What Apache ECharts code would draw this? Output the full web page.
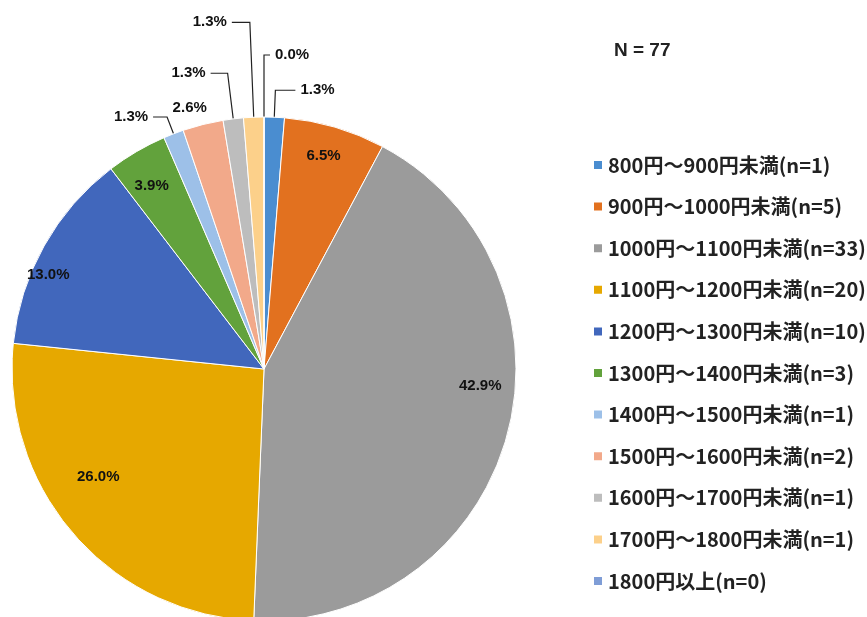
<!DOCTYPE html>
<html>
<head>
<meta charset="utf-8">
<script src="https://cdn.jsdelivr.net/npm/echarts@6/dist/echarts.min.js"></script>
<style>
html,body{margin:0;padding:0;background:#fff;}
#chart{width:867px;height:617px;}
</style>
</head>
<body>
<div id="chart"></div>
<script>
// ---- data ----
const categories = [
  '800円～900円未満', '900円～1000円未満', '1000円～1100円未満', '1100円～1200円未満',
  '1200円～1300円未満', '1300円～1400円未満', '1400円～1500円未満', '1500円～1600円未満',
  '1600円～1700円未満', '1700円～1800円未満', '1800円以上'
];
const counts = [1, 5, 33, 20, 10, 3, 1, 2, 1, 1, 0];
const totalN = 77;
const colors = ['#4a8dd0', '#e2711f', '#9b9b9b', '#e6a800', '#4167bc', '#62a23c',
                '#9dc0e8', '#f2a98a', '#bdbdbd', '#fcd08a', '#7f9dd6'];

// ---- styling helpers (not data) ----
const insideIdx = [1, 2, 3, 4, 5];
const insideOffset = { 1: [-3, 0], 2: [2, -41], 3: [2, -38], 4: [-22, 14], 5: [0, 8] };
const outsideLine = { // first segment, second segment, show line
  0: [27, 20, true],
  6: [18, 14, true],
  7: [17, 0, false],
  8: [46, 17, true],
  9: [95, 18, true],
  10: [62, 6, true]
};
const pct = v => (v / totalN * 100).toFixed(1) + '%';
const legendNames = categories.map((c, i) => c + '(n=' + counts[i] + ')');

const labelFont = {
  color: '#111', fontSize: 15, fontWeight: 'bold',
  fontFamily: '"Liberation Sans", Arial, sans-serif'
};

const mainData = counts.map((v, i) => {
  const o = outsideLine[i];
  return {
    name: legendNames[i],
    value: v,
    itemStyle: { color: colors[i] },
    label: o ? Object.assign({ show: true, position: 'outside', formatter: () => pct(v) }, labelFont)
             : { show: false },
    labelLine: o ? { show: o[2], length: o[0], length2: o[1], smooth: false,
                     lineStyle: { color: '#222', width: 1.2 } } : { show: false }
  };
});

const labelData = counts.map((v, i) => ({
  name: legendNames[i],
  value: v,
  itemStyle: { color: 'rgba(0,0,0,0)' },
  label: insideIdx.includes(i)
    ? Object.assign({ show: true, position: 'inside', offset: insideOffset[i], formatter: () => pct(v) }, labelFont)
    : { show: false },
  labelLine: { show: false }
}));

const chart = echarts.init(document.getElementById('chart'), null, { renderer: 'canvas' });
chart.setOption({
  animation: false,
  backgroundColor: '#ffffff',
  title: {
    text: 'N = 77',
    left: 609, top: 36,
    textStyle: { fontSize: 19, fontWeight: 'bold', color: '#222',
                 fontFamily: '"Liberation Sans", Arial, sans-serif' }
  },
  legend: {
    orient: 'vertical',
    left: 587, top: 150,
    itemWidth: 10, itemHeight: 10,
    itemGap: 21.6,
    icon: 'rect',
    data: legendNames,
    textStyle: {
      fontSize: 20, fontWeight: 'bold', color: '#222', lineHeight: 20, padding: [0, 0, 0, 0],
      fontFamily: '"Noto Sans CJK JP", sans-serif'
    }
  },
  series: [
    {
      type: 'pie',
      center: [264, 369],
      radius: [0, 252],
      startAngle: 90,
      clockwise: true,
      avoidLabelOverlap: false,
      minShowLabelAngle: 0,
      silent: true,
      itemStyle: { borderColor: '#fff', borderWidth: 1 },
      data: mainData,
      labelLayout: function (params) {
        const pts = params.labelLinePoints;
        if (params.dataIndex === 10 && pts && pts.length === 3 && pts[2][0] < pts[1][0]) {
          // mirror the zero slice's label to the right side of its leader line
          const newX = pts[1][0] + (pts[1][0] - pts[2][0]);
          return {
            x: newX + 5,
            y: params.labelRect.y + params.labelRect.height / 2,
            align: 'left',
            verticalAlign: 'middle',
            labelLinePoints: [pts[0], pts[1], [newX, pts[2][1]]]
          };
        }
        if (params.dataIndex === 7) {
          return { dx: 13 };
        }
        return {};
      }
    },
    {
      type: 'pie',
      center: [264, 369],
      radius: [186, 252],
      startAngle: 90,
      clockwise: true,
      avoidLabelOverlap: false,
      silent: true,
      legendHoverLink: false,
      data: labelData
    }
  ]
});
</script>
</body>
</html>
